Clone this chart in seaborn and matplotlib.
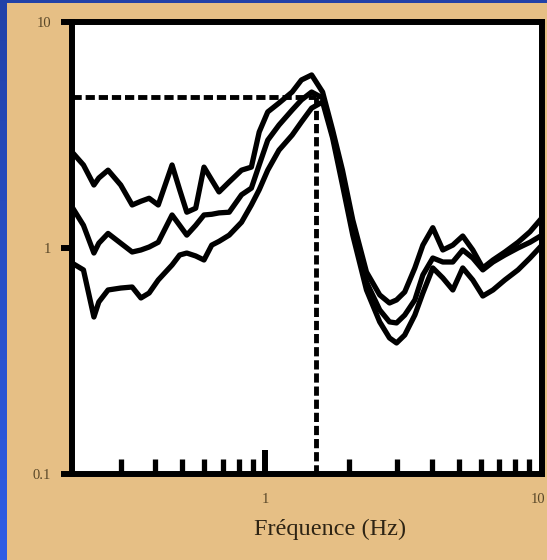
import numpy as np
import pandas as pd
import matplotlib
matplotlib.use("Agg")
import matplotlib.pyplot as plt
import matplotlib.transforms as mtransforms
from matplotlib.ticker import FixedLocator, NullLocator, FixedFormatter
import seaborn as sns

# Frequencies (Hz) at which the three spectral ratio curves are sampled
freq = [0.20, 0.22, 0.24, 0.25, 0.27, 0.30, 0.33, 0.355, 0.38, 0.41,
        0.46, 0.49, 0.52, 0.56, 0.60, 0.64, 0.68, 0.74, 0.82, 0.89,
        0.95, 1.02, 1.12, 1.25, 1.35, 1.47, 1.61, 1.75, 1.90, 2.07,
        2.32, 2.59, 2.81, 2.98, 3.19, 3.47, 3.71, 4.03, 4.38, 4.76,
        5.17, 5.62, 6.11, 6.65, 7.34, 8.19, 9.05, 10.0]

# Upper curve
amp_upper = [2.66, 2.33, 1.90, 2.04, 2.21, 1.90, 1.55, 1.61, 1.66, 1.55,
             2.33, 1.81, 1.44, 1.50, 2.28, 2.00, 1.77, 1.96, 2.21, 2.28,
             3.26, 4.00, 4.38, 4.90, 5.54, 5.83, 4.90, 3.33, 2.21, 1.33,
             0.783, 0.620, 0.571, 0.589, 0.639, 0.816, 1.03, 1.23, 0.98, 1.03,
             1.13, 0.98, 0.816, 0.885, 0.96, 1.06, 1.18, 1.36]

# Middle curve
amp_middle = [1.52, 1.26, 0.95, 1.05, 1.16, 1.05, 0.96, 0.98, 1.01, 1.06,
              1.40, 1.26, 1.14, 1.26, 1.40, 1.41, 1.43, 1.44, 1.72, 1.84,
              2.33, 3.00, 3.50, 4.08, 4.52, 4.90, 4.61, 3.16, 2.04, 1.23,
              0.707, 0.532, 0.471, 0.466, 0.505, 0.589, 0.760, 0.903, 0.867, 0.867,
              0.98, 0.903, 0.80, 0.867, 0.931, 1.00, 1.06, 1.14]

# Lower curve
amp_lower = [0.858, 0.80, 0.495, 0.577, 0.652, 0.665, 0.672, 0.601, 0.632, 0.722,
             0.841, 0.931, 0.95, 0.922, 0.885, 1.03, 1.07, 1.14, 1.30, 1.55,
             1.81, 2.21, 2.71, 3.16, 3.61, 4.16, 4.43, 3.07, 1.90, 1.14,
             0.652, 0.471, 0.400, 0.380, 0.412, 0.505, 0.632, 0.816, 0.737, 0.652,
             0.816, 0.722, 0.613, 0.652, 0.722, 0.80, 0.903, 1.03]

# Resonance frequency and peak amplitude marked by the dashed guides
f0 = 1.52
a0 = 4.66

y_ticks = [0.1, 1, 10]
y_tick_labels = ["0.1", "1", "10"]
x_ticks = [1, 10]
x_tick_labels = ["1", "10"]
x_minor = [0.3, 0.4, 0.5, 0.6, 0.7, 0.8, 0.9, 2, 3, 4, 5, 6, 7, 8, 9]

df = pd.concat([
    pd.DataFrame({"freq": freq, "amp": amp_upper, "curve": "upper"}),
    pd.DataFrame({"freq": freq, "amp": amp_middle, "curve": "middle"}),
    pd.DataFrame({"freq": freq, "amp": amp_lower, "curve": "lower"}),
])

sns.set_style("ticks")
plt.rcParams["font.family"] = ["Liberation Serif", "DejaVu Serif"]

tan = "#E6BF85"
fig = plt.figure(figsize=(5.47, 5.60), dpi=100, facecolor=tan)

# blue border on the left and top edges of the slide
W, H = 547, 560
strip = fig.add_axes([0, 0, 7 / W, 1])
grad = np.linspace(0, 1, 256).reshape(-1, 1)
cmap = matplotlib.colors.LinearSegmentedColormap.from_list("edge", ["#2141A8", "#2F5DE6"])
strip.imshow(grad, aspect="auto", cmap=cmap, origin="upper")
strip.set_axis_off()
top = fig.add_axes([0, 1 - 3 / H, 1, 3 / H])
top.set_facecolor("#2141A8")
top.set_xticks([]); top.set_yticks([])
for s in top.spines.values():
    s.set_visible(False)

ax = fig.add_axes([72 / W, 1 - 474 / H, 470 / W, 452 / H])
ax.set_facecolor("white")

sns.lineplot(data=df, x="freq", y="amp", units="curve", estimator=None,
             color="black", lw=3.8, sort=False, ax=ax, legend=False)

ax.set_xscale("log")
ax.set_yscale("log")
ax.set_xlim(0.2, 10)
ax.set_ylim(0.1, 10)

dash = (0, (1.9, 0.8))
ax.plot([0.2, f0], [a0, a0], color="black", lw=3.5, linestyle=dash)
ax.plot([f0, f0], [0.1, a0], color="black", lw=3.5, linestyle=dash)

for s in ax.spines.values():
    s.set_visible(True)
    s.set_color("black")
    s.set_linewidth(4.3)

ax.yaxis.set_major_locator(FixedLocator(y_ticks))
ax.yaxis.set_major_formatter(FixedFormatter(y_tick_labels))
ax.yaxis.set_minor_locator(NullLocator())
ax.xaxis.set_major_locator(FixedLocator(x_ticks))
ax.xaxis.set_major_formatter(FixedFormatter(x_tick_labels))
ax.xaxis.set_minor_locator(FixedLocator(x_minor))
ax.xaxis.set_minor_formatter(FixedFormatter([""] * len(x_minor)))

label_color = "#5a4829"
ax.tick_params(axis="y", which="major", left=True, right=False, direction="out",
               length=8, width=4.3, pad=7, labelsize=10.5, labelcolor=label_color,
               color="black")
ax.tick_params(axis="x", which="both", bottom=True, top=False)
ax.tick_params(axis="x", which="major", direction="in", length=17, width=4.3,
               pad=14, labelsize=10.5, labelcolor=label_color, color="black")
ax.tick_params(axis="x", which="minor", direction="in", length=11, width=3.8,
               color="black")

# the "10" at the right end of the frequency axis sits flush against the edge
fig.canvas.draw()
offset = mtransforms.ScaledTranslation(3 / 100, 0, fig.dpi_scale_trans)
last = ax.xaxis.get_major_ticks()[-1]
last.label1.set_horizontalalignment("right")
last.label1.set_transform(last.label1.get_transform() + offset)

ax.set_xlabel("Fréquence (Hz)", fontsize=17.5, color="#2e2414")
ax.xaxis.set_label_coords(0.55, -0.1)
ax.set_ylabel("")

fig.savefig("out.png", dpi=100, facecolor=tan)
